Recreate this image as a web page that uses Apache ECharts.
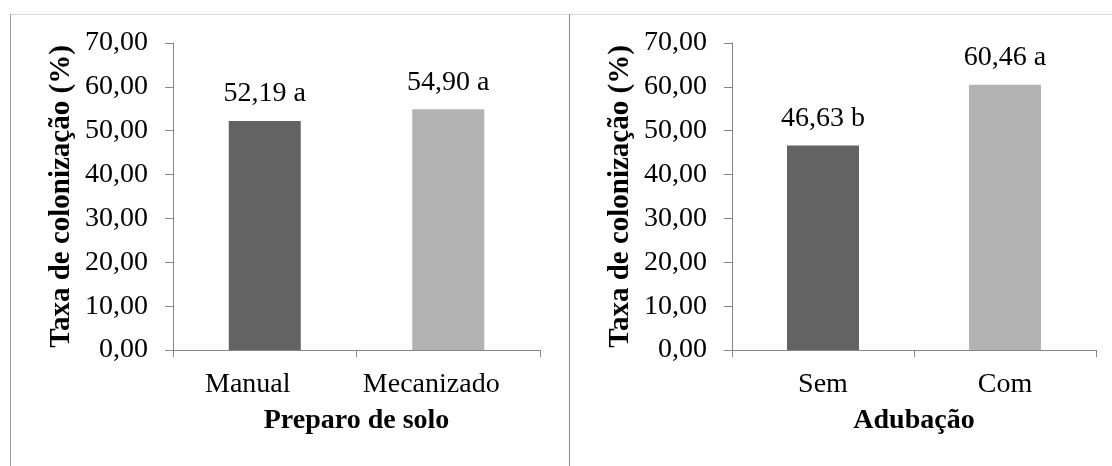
<!DOCTYPE html>
<html>
<head>
<meta charset="utf-8">
<script src="https://cdn.jsdelivr.net/npm/echarts@6/dist/echarts.min.js"></script>
<style>
  html, body { margin: 0; padding: 0; background: #fff; }
  #chart { width: 1112px; height: 466px; }
</style>
</head>
<body>
<div id="chart"></div>
<script>
// left panel: soil preparation
const prepCategories = ["Manual", "Mecanizado"];
const prepValues = [52.19, 54.90];
const prepLetters = ["a", "a"];

// right panel: fertilization
const adubCategories = ["Sem", "Com"];
const adubValues = [46.63, 60.46];
const adubLetters = ["b", "a"];

const yTicks = { min: 0, max: 70, interval: 10 };
const yTitle = "Taxa de colonização (%)";
const barColors = ["#636363", "#b2b2b2"];

const font = "'Liberation Serif', 'Times New Roman', serif";
const axisGray = "#868686";

function fmt(v) {
  return v.toFixed(2).replace(".", ",");
}

function yAxis(gridIndex) {
  return {
    type: "value",
    gridIndex: gridIndex,
    min: yTicks.min,
    max: yTicks.max,
    interval: yTicks.interval,
    name: yTitle,
    nameLocation: "middle",
    nameGap: 97,
    nameTextStyle: { fontFamily: font, fontSize: 29, fontWeight: "bold", color: "#000" },
    axisLine: { show: true, lineStyle: { color: axisGray, width: 1 } },
    axisTick: { show: true, length: 8, lineStyle: { color: axisGray } },
    splitLine: { show: false },
    axisLabel: { fontFamily: font, fontSize: 28, color: "#000", margin: 25, formatter: v => fmt(v) }
  };
}

// shift: Excel drew the left panel's category labels a bit left of the bars
function xAxis(gridIndex, cats, title, shift) {
  return {
    type: "category",
    gridIndex: gridIndex,
    data: cats,
    name: title,
    nameLocation: "middle",
    nameGap: 57,
    nameTextStyle: { fontFamily: font, fontSize: 28, fontWeight: "bold", color: "#000" },
    axisLine: { show: true, lineStyle: { color: axisGray, width: 1 } },
    axisTick: { show: true, length: 7, lineStyle: { color: axisGray } },
    axisLabel: { fontFamily: font, fontSize: 28, color: "#000", margin: 21, padding: [0, shift * 2, 0, 0] }
  };
}

function barSeries(idx, values, letters) {
  return {
    type: "bar",
    xAxisIndex: idx,
    yAxisIndex: idx,
    barWidth: 72,
    data: values.map((v, i) => ({ value: v, itemStyle: { color: barColors[i] } })),
    label: {
      show: true,
      position: "top",
      distance: 13,
      fontFamily: font,
      fontSize: 28,
      color: "#000",
      formatter: p => fmt(p.value) + " " + letters[p.dataIndex]
    },
    animation: false
  };
}

const chart = echarts.init(document.getElementById("chart"));
chart.setOption({
  backgroundColor: "#fff",
  animation: false,
  graphic: [
    { type: "line", shape: { x1: 10, y1: 14.5, x2: 1112, y2: 14.5 }, style: { stroke: "#d9d9d9", lineWidth: 1 } },
    { type: "line", shape: { x1: 10.5, y1: 14, x2: 10.5, y2: 466 }, style: { stroke: "#9a9a9a", lineWidth: 1 } },
    { type: "line", shape: { x1: 569.5, y1: 14, x2: 569.5, y2: 466 }, style: { stroke: "#8a8a8a", lineWidth: 1 } }
  ],
  grid: [
    { left: 173, right: 572, top: 43, bottom: 116 },
    { left: 732, right: 16, top: 43, bottom: 116 }
  ],
  xAxis: [
    xAxis(0, prepCategories, "Preparo de solo", 17),
    xAxis(1, adubCategories, "Adubação", 0)
  ],
  yAxis: [yAxis(0), yAxis(1)],
  series: [
    barSeries(0, prepValues, prepLetters),
    barSeries(1, adubValues, adubLetters)
  ]
});
</script>
</body>
</html>
